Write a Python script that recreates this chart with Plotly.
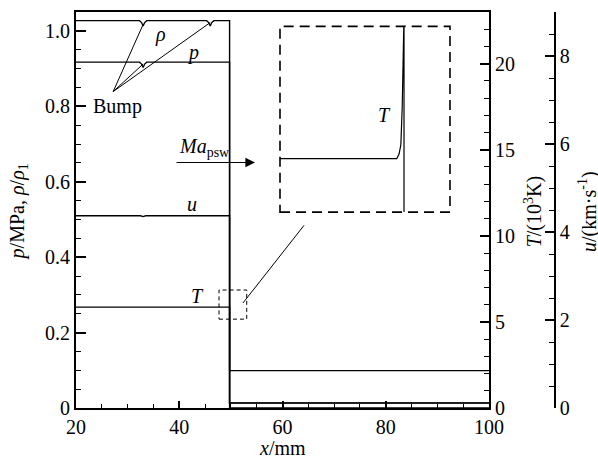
import plotly.graph_objects as go

# ---------------- data ----------------
x_rho = [20, 32.3, 32.7, 33.0, 33.3, 33.7, 45.3, 45.7, 46.0, 46.3, 46.7, 49.75, 49.75, 100]
rho = [1.027, 1.027, 1.022, 1.013, 1.022, 1.027, 1.027, 1.022, 1.013, 1.022, 1.027, 1.027, 0.013, 0.013]

x_p = [20, 32.3, 32.7, 33.0, 33.3, 33.7, 49.75, 49.75, 100]
p = [0.917, 0.917, 0.912, 0.903, 0.912, 0.917, 0.917, 0.099, 0.099]

x_u = [20, 32.5, 33.0, 33.5, 49.75, 49.75, 100]
u = [4.37, 4.37, 4.35, 4.37, 4.37, 0.0, 0.0]          # km/s

x_T = [20, 49.75, 49.75, 100]
T = [5.86, 5.86, 0.3, 0.3]                              # 10^3 K

# zoomed detail of T near the shock front (drawn on overlaying inset axes)
x_T_zoom = [47.0, 49.59, 49.64, 49.68, 49.71, 49.73, 49.745, 49.75, 49.75]
T_zoom = [5.86, 5.86, 5.90, 5.98, 6.3, 7.0, 7.0, 7.0, 5.4]

x_ticks = [20, 40, 60, 80, 100]
y_ticks = [0, 0.2, 0.4, 0.6, 0.8, 1.0]
y_ticktext = ["0", "0.2", "0.4", "0.6", "0.8", "1.0"]
T_ticks = [0, 5, 10, 15, 20]
u_ticks = [0, 2, 4, 6, 8]

FONT = "Liberation Serif"
line = dict(color="black", width=1.4)

# inset box location in plot fraction (x within main x-domain, y within plot height)
ix0, ix1 = (280 - 76) / 413, (450 - 76) / 413
iy0, iy1 = (407.7 - 210.7) / 398.2, (407.7 - 24) / 398.2
xr_in = [47.0, 50.77]
yr_in = [5.4, 7.0]
# ranges of full-size overlaying axes so that the inset ranges land on the box
wx = (xr_in[1] - xr_in[0]) / (ix1 - ix0)
x2_range = [xr_in[0] - ix0 * wx, xr_in[0] + (1 - ix0) * wx]
wy = (yr_in[1] - yr_in[0]) / (iy1 - iy0)
y4_range = [yr_in[0] - iy0 * wy, yr_in[0] + (1 - iy0) * wy]

fig = go.Figure()
fig.add_trace(go.Scatter(x=x_rho, y=rho, mode="lines", line=line, xaxis="x", yaxis="y", showlegend=False))
fig.add_trace(go.Scatter(x=x_p, y=p, mode="lines", line=line, xaxis="x", yaxis="y", showlegend=False))
fig.add_trace(go.Scatter(x=x_T, y=T, mode="lines", line=line, xaxis="x", yaxis="y2", showlegend=False))
fig.add_trace(go.Scatter(x=x_u, y=u, mode="lines", line=line, xaxis="x", yaxis="y3", showlegend=False))
fig.add_trace(go.Scatter(x=x_T_zoom, y=T_zoom, mode="lines", line=dict(color="black", width=1.2),
                         xaxis="x2", yaxis="y4", showlegend=False))

def tf():
    return dict(family=FONT, size=20, color="black")

def minor(d):
    return dict(ticks="inside", ticklen=5, dtick=d, tick0=0, tickwidth=1, tickcolor="black")

xd = 413 / 479
fig.update_layout(
    width=598, height=456,
    margin=dict(l=76, r=43, t=10, b=48),
    font=dict(family=FONT, size=20, color="black"),
    plot_bgcolor="white",
    xaxis=dict(domain=[0, xd], range=[20, 100], tickvals=x_ticks, ticks="inside", ticklen=7,
               tickwidth=2, linewidth=2, mirror=True, showline=True, linecolor="black",
               showgrid=False, zeroline=False, tickcolor="black", tickfont=tf(),
               minor=dict(ticks="inside", ticklen=4, dtick=5, tick0=0, tickwidth=1, tickcolor="black")),
    yaxis=dict(range=[0, 1.05], tickvals=y_ticks, ticktext=y_ticktext, ticks="inside", ticklen=10,
               tickwidth=2, linewidth=2, showline=True, linecolor="black",
               showgrid=False, zeroline=False, tickcolor="black", tickfont=tf(), minor=minor(0.05)),
    yaxis2=dict(overlaying="y", side="right", anchor="x", range=[0, 23], tickvals=T_ticks,
                ticks="inside", ticklen=9, tickwidth=2, linewidth=2, showline=True, linecolor="black",
                showgrid=False, zeroline=False, tickcolor="black", tickfont=tf(), minor=minor(1)),
    yaxis3=dict(overlaying="y", side="right", anchor="free", position=1, range=[0, 9], tickvals=u_ticks,
                ticks="inside", ticklen=9, tickwidth=2, linewidth=1.5, showline=True, linecolor="black",
                showgrid=False, zeroline=False, tickcolor="black", tickfont=tf(), minor=minor(0.5)),
    xaxis2=dict(overlaying="x", range=x2_range, visible=False),
    yaxis4=dict(overlaying="y", range=y4_range, visible=False),
)

shapes = []
for (x1, y1) in [(33.0, 1.017), (46.0, 1.022), (33.0, 0.912)]:
    shapes.append(dict(type="line", xref="x", yref="y", x0=27.2, y0=0.839, x1=x1, y1=y1,
                       line=dict(color="black", width=1)))
shapes.append(dict(type="rect", xref="x", yref="y", x0=47.7, x1=53.07, y0=0.2356, y1=0.3129,
                   line=dict(color="black", width=1, dash="4px,3px")))
shapes.append(dict(type="line", xref="x", yref="y", x0=52.35, y0=0.2786, x1=64.17, y1=0.4842,
                   line=dict(color="black", width=1)))
shapes.append(dict(type="rect", xref="x2", yref="y4", x0=xr_in[0], x1=xr_in[1], y0=yr_in[0], y1=yr_in[1],
                   line=dict(color="black", width=1.6, dash="10px,6px")))
fig.update_layout(shapes=shapes)

ann = []
def txt(text, x, y, size=20, xref="x", yref="y", angle=0):
    ann.append(dict(text=text, x=x, y=y, xref=xref, yref=yref, showarrow=False, textangle=angle,
                    font=dict(family=FONT, size=size, color="black"),
                    xanchor="center", yanchor="middle"))

txt("Bump", 28.0, 0.80)
txt("<i>ρ</i>", 36.3, 0.991)
txt("<i>p</i>", 42.7, 0.943)
txt("<i>u</i>", 42.4, 0.540)
txt("<i>T</i>", 43.6, 0.297)
txt("<i>T</i>", 49.31, 6.24, xref="x2", yref="y4")
txt("<i>Ma</i><sub>psw</sub>", 44.9, 0.690)
ann.append(dict(x=54.67, y=0.651, ax=39.18, ay=0.651, xref="x", yref="y", axref="x", ayref="y",
                showarrow=True, arrowhead=2, arrowsize=1.6, arrowwidth=1.2, arrowcolor="black", text=""))
txt("<i>x</i>/mm", 0.4311, -0.100, xref="paper", yref="paper")
txt("<i>p</i>/MPa, <i>ρ</i>/<i>ρ</i><sub>1</sub>", -0.1211, 0.4965, xref="paper", yref="paper", angle=-90)
txt("<i>T</i>/(10<sup>3</sup>K)", 0.954, 0.4965, xref="paper", yref="paper", angle=-90)
txt("<i>u</i>/(km·s<sup>-1</sup>)", 1.068, 0.4965, xref="paper", yref="paper", angle=-90)
fig.update_layout(annotations=ann)

fig.write_html("out.html")
